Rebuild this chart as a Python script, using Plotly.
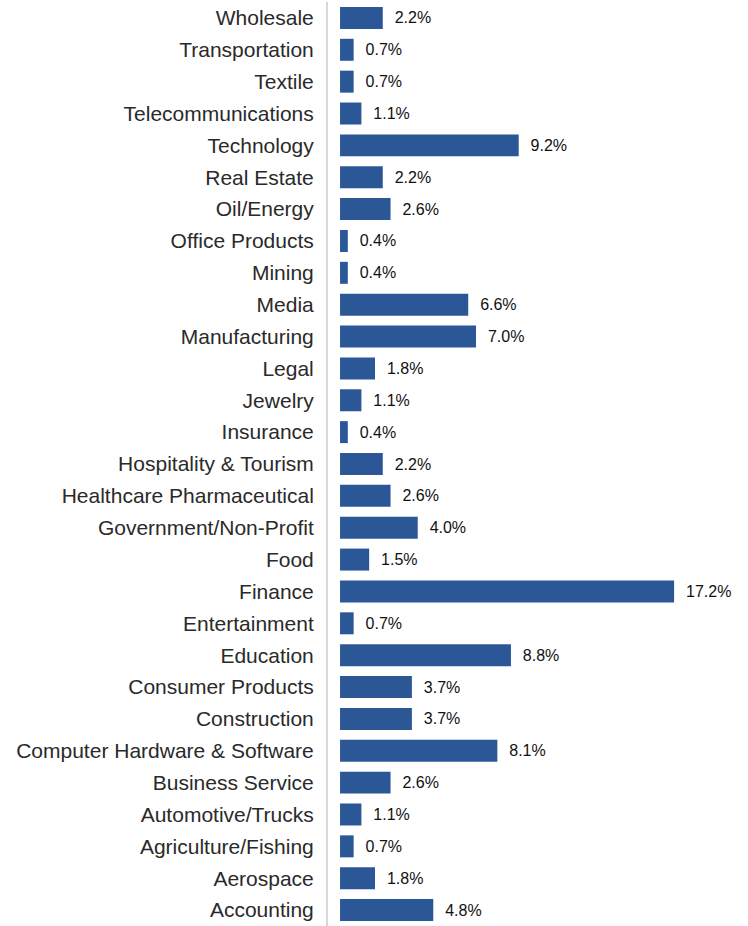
import plotly.graph_objects as go

categories = ["Wholesale", "Transportation", "Textile", "Telecommunications", "Technology",
              "Real Estate", "Oil/Energy", "Office Products", "Mining", "Media",
              "Manufacturing", "Legal", "Jewelry", "Insurance", "Hospitality & Tourism",
              "Healthcare Pharmaceutical", "Government/Non-Profit", "Food", "Finance",
              "Entertainment", "Education", "Consumer Products", "Construction",
              "Computer Hardware & Software", "Business Service", "Automotive/Trucks",
              "Agriculture/Fishing", "Aerospace", "Accounting"]
values = [2.2, 0.7, 0.7, 1.1, 9.2, 2.2, 2.6, 0.4, 0.4, 6.6, 7.0, 1.8, 1.1, 0.4, 2.2,
          2.6, 4.0, 1.5, 17.2, 0.7, 8.8, 3.7, 3.7, 8.1, 2.6, 1.1, 0.7, 1.8, 4.8]
labels = ["\u00a0\u00a0" + f"{v:.1f}%" for v in values]

fig = go.Figure(go.Bar(
    x=values, y=categories, orientation="h",
    marker=dict(color="#2b5797", line=dict(width=0)),
    width=0.69,
    text=labels, textposition="outside",
    textfont=dict(size=16, color="#111", family="Liberation Sans"),
    cliponaxis=False,
    hoverinfo="skip",
))

fig.update_layout(
    width=748, height=926,
    margin=dict(l=328, r=10, t=2, b=0),
    plot_bgcolor="white", paper_bgcolor="white",
    showlegend=False,
    font=dict(family="Liberation Sans", color="#2a2a2a"),
    xaxis=dict(range=[-0.62, 20.49], visible=False, showgrid=False, zeroline=False),
    yaxis=dict(autorange="reversed", showline=True, linecolor="#d8d8d8", linewidth=2,
               ticks="", ticklabelstandoff=8, tickfont=dict(size=21, color="#2a2a2a"),
               showgrid=False, zeroline=False, automargin=False),
)

fig.write_html("out.html", config={"displayModeBar": False, "staticPlot": True},
               post_script="document.body.style.margin='0';document.body.style.overflow='hidden';")
